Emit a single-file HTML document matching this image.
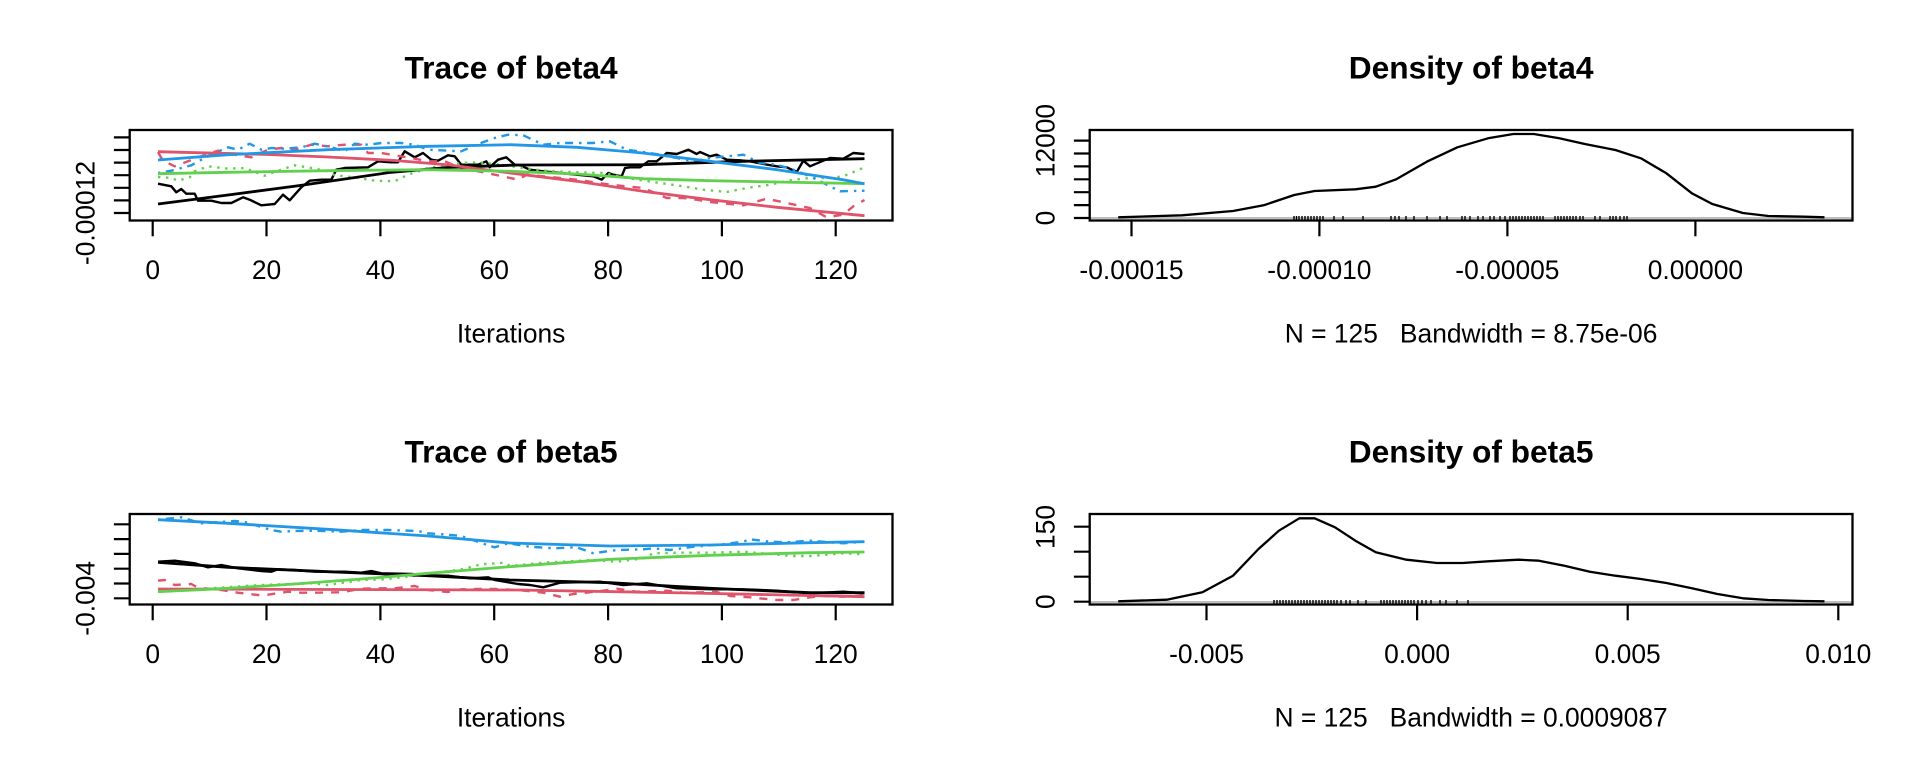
<!DOCTYPE html>
<html>
<head>
<meta charset="utf-8">
<style>
html,body{margin:0;padding:0;background:#fff;}
body{width:1920px;height:768px;overflow:hidden;}
svg{display:block;}
text{font-family:"Liberation Sans",Arial,sans-serif;fill:#000;}
.t{font-size:31.7px;font-weight:bold;}
.l{font-size:26.4px;}
</style>
</head>
<body>
<svg width="1920" height="768" viewBox="0 0 1920 768" xmlns="http://www.w3.org/2000/svg">
<rect x="0" y="0" width="1920" height="768" fill="#fff"/>

<!-- ============ Panel 1: Trace of beta4 ============ -->
<g fill="none" stroke-linejoin="round">
<polyline stroke="#000" stroke-width="2.4" points="158,183.7 171.3,186.3 176.3,192.3 181.3,189 186.3,193.7 194.7,193.7 198,200.7 211.3,200.7 221.3,203 231.3,203 243,197.3 249.7,199.7 261.3,205.3 274.7,204 283,194.7 289.7,200.3 301.3,187.3 309.7,180.7 321.3,179.7 331.3,179.7 336.3,169.7 344.7,168 368,167.3 378,161.3 391.3,162.3 398,162.3 404.7,151.3 414.7,157.3 423,153 431.3,159.7 438,160.7 448,155.3 454.7,156.3 461.3,164.7 478,164.7 486.3,161.3 489.7,167.3 498,159.7 506.3,157.3 514.7,164.7 520,165.3 530,169.7 543.3,171.3 560,173 576.7,174.7 593.3,176.3 601.7,179.7 608.3,173 613.3,174.7 621.7,176.3 625,168 630,167.3 640,167.3 648.3,161.3 656.7,161.3 666.7,153 676.7,154 688.3,149.7 696.7,154 700,152 710,156.3 716.7,154.7 726.7,159.7 740,160.3 750,161.3 763.3,164 776.7,166.3 786.7,167.3 796.7,172 803.3,160.7 810,166.3 823.3,160.7 830,158 843.3,158.7 853.3,153 864.5,154"/>
<polyline stroke="#DF536B" stroke-width="2.4" stroke-dasharray="8,8" points="158,152 161.3,158 164.7,161.3 174.7,166.3 188,161.3 201.3,156.3 218,150.7 234.7,154.7 251.3,157.3 268,149.7 281.3,148 294.7,149.7 311.3,144.7 328,146.3 344.7,144.7 361.3,144.7 368,153 381.3,153 394.7,155.3 411.3,158 428,161.3 444.7,161.3 461.3,168 478,171.3 494.7,174.7 518,179.7 526.7,174.7 543.3,176.3 576.7,179.7 610,184.7 643.3,188 666.7,198 683.3,198 696.7,199.7 710,202 743.3,205.3 766.7,198.7 786.7,203 810,208 826.7,217.3 843.3,214.7 853.3,206.3 864.5,200"/>
<polyline stroke="#61D04F" stroke-width="2.4" stroke-dasharray="2.4,5.6" points="158,177 171.3,178 178,180.7 189.7,177.3 194.7,171.3 208,166.3 228,168.7 244.7,168 264.7,175.7 278,170.7 294.7,165.3 311.3,168 328,171.3 334.7,175.3 354.7,177.3 374.7,180.7 394.7,181.3 408,174.7 428,168 448,164.7 461.3,163 478,162.3 494.7,164 518,167.3 543.3,170.7 576.7,172.3 603.3,173 626.7,178 660,183 683.3,186.3 703.3,189.7 726.7,192 746.7,188 770,184.7 793.3,179.7 810,178 830,178 843.3,176.3 864.5,167.3"/>
<polyline stroke="#2297E6" stroke-width="2.4" stroke-dasharray="2.4,5.6,8,6" points="158,173 171.3,170.7 191.3,165.3 201.3,159.7 214.7,153 228,147.3 238,149.7 249.7,143.7 261.3,149.7 271.3,148 284.7,148.7 301.3,147.3 314.7,143.7 331.3,147.3 344.7,151.3 354.7,143.7 368,144.7 381.3,143 401.3,143 414.7,144.7 428,149.7 448,150.7 461.3,151.3 478,144 494.7,138 508,134.7 523.3,135.3 543.3,144.7 560,143 576.7,143 593.3,143 610,141.3 626.7,149.7 643.3,152 660,154.7 676.7,158 693.3,161.3 710,158 726.7,156.3 743.3,154.7 760,163 776.7,164.7 793.3,169.7 810,176.3 826.7,184.7 840,191.3 864.5,190.7"/>
<polyline stroke="#000" stroke-width="2.8" points="158,204 228,195 300,185.5 391,172.3 450,167.3 518,165 643,164.7 743,161.3 864.5,158.7"/>
<polyline stroke="#DF536B" stroke-width="2.8" points="158,151.7 268,154.5 328,157 395,160.5 450,165 510,173 577,181.3 643,191.3 710,199.7 777,207.3 864.5,215.7"/>
<polyline stroke="#61D04F" stroke-width="2.8" points="158,173.7 228,172.3 328,170.7 428,169.7 510,171.3 577,174 643,178.7 710,180.7 777,182 864.5,183.7"/>
<polyline stroke="#2297E6" stroke-width="2.8" points="158,160 228,154.7 328,149.7 428,146.3 510,144.7 577,147.3 643,153 710,161.3 777,169.7 843,179.7 864.5,183.7"/>
</g>
<rect x="129.7" y="130" width="762.8" height="90.5" fill="none" stroke="#000" stroke-width="2.3"/>
<g stroke="#000" stroke-width="2.2">
<line x1="152.7" y1="220.5" x2="152.7" y2="236.3"/>
<line x1="266.5" y1="220.5" x2="266.5" y2="236.3"/>
<line x1="380.4" y1="220.5" x2="380.4" y2="236.3"/>
<line x1="494.2" y1="220.5" x2="494.2" y2="236.3"/>
<line x1="608.1" y1="220.5" x2="608.1" y2="236.3"/>
<line x1="721.9" y1="220.5" x2="721.9" y2="236.3"/>
<line x1="835.7" y1="220.5" x2="835.7" y2="236.3"/>
<line x1="113.9" y1="213" x2="129.7" y2="213"/>
<line x1="113.9" y1="200.4" x2="129.7" y2="200.4"/>
<line x1="113.9" y1="187.8" x2="129.7" y2="187.8"/>
<line x1="113.9" y1="175.2" x2="129.7" y2="175.2"/>
<line x1="113.9" y1="162.6" x2="129.7" y2="162.6"/>
<line x1="113.9" y1="150" x2="129.7" y2="150"/>
<line x1="113.9" y1="137.4" x2="129.7" y2="137.4"/>
</g>
<g class="l" text-anchor="middle">
<text x="152.7" y="279">0</text>
<text x="266.5" y="279">20</text>
<text x="380.4" y="279">40</text>
<text x="494.2" y="279">60</text>
<text x="608.1" y="279">80</text>
<text x="721.9" y="279">100</text>
<text x="835.7" y="279">120</text>
<text transform="translate(94.5,213) rotate(-90)">-0.00012</text>
<text x="511.1" y="342.5">Iterations</text>
</g>
<text class="t" x="511.1" y="78.3" text-anchor="middle">Trace of beta4</text>

<!-- ============ Panel 2: Density of beta4 ============ -->
<line x1="1089.7" y1="218" x2="1852.5" y2="218" stroke="#BEBEBE" stroke-width="2"/>
<polyline fill="none" stroke="#000" stroke-width="2.3" stroke-linejoin="round" points="1118.2,217.3 1182,215.3 1233,211 1263.6,205.3 1294.2,195 1314.6,191 1355.4,189.3 1375.8,186.7 1396.2,179.3 1426.8,161.7 1457.4,147.3 1488,138.3 1513.4,134 1533.8,134 1559.3,138.3 1584.8,144 1615.4,150 1640.9,158.3 1666.4,173.3 1691.9,193.3 1712.3,204 1742.9,213 1768.4,216 1804.1,216.7 1824.5,217.3"/>
<g stroke="#000" stroke-width="1.4">
<path d="M1294 216v3.5M1296.5 216v3.5M1299 216v3.5M1302 216v3.5M1305 216v3.5M1308 216v3.5M1311 216v3.5M1314 216v3.5M1317 216v3.5M1320 216v3.5M1323 216v3.5M1334 216v3.5M1343 216v3.5M1363 216v3.5M1391 216v3.5M1395 216v3.5M1399 216v3.5M1406 216v3.5M1414 216v3.5M1427 216v3.5M1440 216v3.5M1447 216v3.5M1462 216v3.5M1465 216v3.5M1470 216v3.5M1478 216v3.5M1483 216v3.5M1490 216v3.5M1494 216v3.5M1500 216v3.5M1505 216v3.5M1510 216v3.5M1513 216v3.5M1516 216v3.5M1519 216v3.5M1522 216v3.5M1525 216v3.5M1528 216v3.5M1531 216v3.5M1534 216v3.5M1537 216v3.5M1540 216v3.5M1543 216v3.5M1555 216v3.5M1558 216v3.5M1561 216v3.5M1564 216v3.5M1567 216v3.5M1570 216v3.5M1573 216v3.5M1576 216v3.5M1580 216v3.5M1583 216v3.5M1595 216v3.5M1600 216v3.5M1610 216v3.5M1613 216v3.5M1616 216v3.5M1620 216v3.5M1624 216v3.5M1627 216v3.5"/>
</g>
<rect x="1089.7" y="130" width="762.8" height="90.5" fill="none" stroke="#000" stroke-width="2.3"/>
<g stroke="#000" stroke-width="2.2">
<line x1="1131.5" y1="220.5" x2="1131.5" y2="236.3"/>
<line x1="1319.4" y1="220.5" x2="1319.4" y2="236.3"/>
<line x1="1507.4" y1="220.5" x2="1507.4" y2="236.3"/>
<line x1="1695.4" y1="220.5" x2="1695.4" y2="236.3"/>
<line x1="1073.9" y1="218" x2="1089.7" y2="218"/>
<line x1="1073.9" y1="205.1" x2="1089.7" y2="205.1"/>
<line x1="1073.9" y1="192.2" x2="1089.7" y2="192.2"/>
<line x1="1073.9" y1="179.3" x2="1089.7" y2="179.3"/>
<line x1="1073.9" y1="166.4" x2="1089.7" y2="166.4"/>
<line x1="1073.9" y1="153.5" x2="1089.7" y2="153.5"/>
<line x1="1073.9" y1="140.6" x2="1089.7" y2="140.6"/>
</g>
<g class="l" text-anchor="middle">
<text x="1131.5" y="279">-0.00015</text>
<text x="1319.4" y="279">-0.00010</text>
<text x="1507.4" y="279">-0.00005</text>
<text x="1695.4" y="279">0.00000</text>
<text transform="translate(1054.5,218) rotate(-90)">0</text>
<text transform="translate(1054.5,140.6) rotate(-90)">12000</text>
<text x="1471.1" y="342.5" xml:space="preserve" style="white-space:pre">N = 125   Bandwidth = 8.75e-06</text>
</g>
<text class="t" x="1471.1" y="78.3" text-anchor="middle">Density of beta4</text>

<!-- ============ Panel 3: Trace of beta5 ============ -->
<g fill="none" stroke-linejoin="round">
<polyline stroke="#000" stroke-width="2.4" points="158,561.7 174.7,560.7 194.7,563.3 208,567.3 221.3,565 238,568.3 261.3,571 271.3,571.7 278,569.3 294.7,570 314.7,571.7 344.7,571.7 361.3,572.7 371.3,571 381.3,573.3 411.3,574 428,575.3 448,575.7 461.3,577.3 471.3,578.3 488,577.3 494.7,580 518,584 530,585 543.3,587.3 560,582.7 600,581.7 623.3,585 646.7,583.3 676.7,588.3 713.3,589.3 743.3,589.3 776.7,590.7 810,593.3 843.3,591.7 864.5,593.3"/>
<polyline stroke="#DF536B" stroke-width="2.4" stroke-dasharray="8,8" points="158,580.7 164.7,580 174.7,585 191.3,584 198,587.7 221.3,590 238,592.7 258,595 268,594.7 288,591.7 301.3,592.7 314.7,592.7 341.3,592.3 361.3,588.7 381.3,588.3 394.7,588.3 414.7,586 428,590 448,592 461.3,589.3 478,589 494.7,589 518,590 543.3,592.7 560,596.7 573.3,594 603.3,590.7 616.7,588.7 636.7,591.7 666.7,590.7 683.3,592.7 716.7,592 730,596 750,597.3 763.3,598.7 776.7,600 793.3,600 810,597.3 823.3,596 843.3,596.7 864.5,595.3"/>
<polyline stroke="#61D04F" stroke-width="2.4" stroke-dasharray="2.4,5.6" points="158,590 194.7,589.3 261.3,585 311.3,583.3 328,585 361.3,580 384.7,579.3 428,574 461.3,569.3 481.3,564.3 504.7,562.7 510,566 543.3,562.7 593.3,560 616.7,561.7 643.3,558.3 653.3,553.3 676.7,552.7 710,552.7 743.3,551.7 793.3,556 810,556 843.3,553.3 864.5,554.3"/>
<polyline stroke="#2297E6" stroke-width="2.4" stroke-dasharray="2.4,5.6,8,6" points="158,519.7 181.3,517.3 201.3,523.3 234.7,521 244.7,522 271.3,530 281.3,531.7 294.7,531 314.7,530.7 341.3,531.7 361.3,530 388,530 418,531 428,533.3 448,534.7 461.3,536 488,545.3 494.7,547.3 508,543.3 530,546.7 553.3,548.3 576.7,547.3 593.3,553.3 616.7,550 643.3,549.3 653.3,548.3 670,550 693.3,546.7 723.3,544.3 743.3,541.7 750,539.3 770,541.7 786.7,542.3 810,540.7 843.3,543.3 864.5,541.7"/>
<polyline stroke="#000" stroke-width="2.8" points="158,562.3 228,567.3 328,571.7 428,575.7 510,580 610,582.7 710,588.3 810,592.7 864.5,592.7"/>
<polyline stroke="#DF536B" stroke-width="2.8" points="158,589 518,590 690,593 864.5,596.7"/>
<polyline stroke="#61D04F" stroke-width="2.8" points="158,591.7 228,588.3 294.7,584 361.3,579 428,573.3 510,566.7 610,559.3 710,555.3 810,552.7 864.5,552"/>
<polyline stroke="#2297E6" stroke-width="2.8" points="158,519.7 228,523.3 328,529.3 428,536 510,543 610,546 710,545 810,542.7 864.5,541.7"/>
</g>
<rect x="129.7" y="514" width="762.8" height="90.5" fill="none" stroke="#000" stroke-width="2.3"/>
<g stroke="#000" stroke-width="2.2">
<line x1="152.7" y1="604.5" x2="152.7" y2="620.3"/>
<line x1="266.5" y1="604.5" x2="266.5" y2="620.3"/>
<line x1="380.4" y1="604.5" x2="380.4" y2="620.3"/>
<line x1="494.2" y1="604.5" x2="494.2" y2="620.3"/>
<line x1="608.1" y1="604.5" x2="608.1" y2="620.3"/>
<line x1="721.9" y1="604.5" x2="721.9" y2="620.3"/>
<line x1="835.7" y1="604.5" x2="835.7" y2="620.3"/>
<line x1="113.9" y1="598.3" x2="129.7" y2="598.3"/>
<line x1="113.9" y1="583.5" x2="129.7" y2="583.5"/>
<line x1="113.9" y1="568.7" x2="129.7" y2="568.7"/>
<line x1="113.9" y1="553.9" x2="129.7" y2="553.9"/>
<line x1="113.9" y1="539.1" x2="129.7" y2="539.1"/>
<line x1="113.9" y1="524.3" x2="129.7" y2="524.3"/>
</g>
<g class="l" text-anchor="middle">
<text x="152.7" y="663">0</text>
<text x="266.5" y="663">20</text>
<text x="380.4" y="663">40</text>
<text x="494.2" y="663">60</text>
<text x="608.1" y="663">80</text>
<text x="721.9" y="663">100</text>
<text x="835.7" y="663">120</text>
<text transform="translate(94.5,598.3) rotate(-90)">-0.004</text>
<text x="511.1" y="726.5">Iterations</text>
</g>
<text class="t" x="511.1" y="462.3" text-anchor="middle">Trace of beta5</text>

<!-- ============ Panel 4: Density of beta5 ============ -->
<line x1="1089.7" y1="602" x2="1852.5" y2="602" stroke="#BEBEBE" stroke-width="2"/>
<polyline fill="none" stroke="#000" stroke-width="2.3" stroke-linejoin="round" points="1118.2,601.3 1166.7,599.7 1202.4,592.3 1233,575.7 1258.5,549 1278.9,530.7 1299.3,518.3 1314.6,518.3 1335,527.3 1355.4,540.7 1375.8,552.3 1406.4,559.7 1437,563 1462.5,563 1488,561.3 1518.5,559.7 1538.9,560.7 1564.4,565.7 1589.9,571.7 1615.4,575.7 1640.9,579 1666.4,583 1691.9,588.3 1717.4,594 1742.9,598.3 1768.4,600 1804.1,601 1824.5,601.3"/>
<g stroke="#000" stroke-width="1.4">
<path d="M1274 600v3.5M1277 600v3.5M1280 600v3.5M1283 600v3.5M1286 600v3.5M1289 600v3.5M1292 600v3.5M1295 600v3.5M1298 600v3.5M1301 600v3.5M1304 600v3.5M1307 600v3.5M1310 600v3.5M1313 600v3.5M1316 600v3.5M1319 600v3.5M1322 600v3.5M1325 600v3.5M1328 600v3.5M1331 600v3.5M1334 600v3.5M1337 600v3.5M1341 600v3.5M1346 600v3.5M1350 600v3.5M1358 600v3.5M1366 600v3.5M1381 600v3.5M1384 600v3.5M1387 600v3.5M1390 600v3.5M1393 600v3.5M1396 600v3.5M1399 600v3.5M1402 600v3.5M1405 600v3.5M1408 600v3.5M1411 600v3.5M1414 600v3.5M1418 600v3.5M1422 600v3.5M1426 600v3.5M1431 600v3.5M1440 600v3.5M1446 600v3.5M1457 600v3.5M1468 600v3.5"/>
</g>
<rect x="1089.7" y="514" width="762.8" height="90.5" fill="none" stroke="#000" stroke-width="2.3"/>
<g stroke="#000" stroke-width="2.2">
<line x1="1206.5" y1="604.5" x2="1206.5" y2="620.3"/>
<line x1="1417.1" y1="604.5" x2="1417.1" y2="620.3"/>
<line x1="1627.7" y1="604.5" x2="1627.7" y2="620.3"/>
<line x1="1838.3" y1="604.5" x2="1838.3" y2="620.3"/>
<line x1="1073.9" y1="601.7" x2="1089.7" y2="601.7"/>
<line x1="1073.9" y1="576.7" x2="1089.7" y2="576.7"/>
<line x1="1073.9" y1="551.7" x2="1089.7" y2="551.7"/>
<line x1="1073.9" y1="526.7" x2="1089.7" y2="526.7"/>
</g>
<g class="l" text-anchor="middle">
<text x="1206.5" y="663">-0.005</text>
<text x="1417.1" y="663">0.000</text>
<text x="1627.7" y="663">0.005</text>
<text x="1838.3" y="663">0.010</text>
<text transform="translate(1054.5,601.7) rotate(-90)">0</text>
<text transform="translate(1054.5,527) rotate(-90)">150</text>
<text x="1471.1" y="726.5" xml:space="preserve" style="white-space:pre">N = 125   Bandwidth = 0.0009087</text>
</g>
<text class="t" x="1471.1" y="462.3" text-anchor="middle">Density of beta5</text>
</svg>
</body>
</html>
